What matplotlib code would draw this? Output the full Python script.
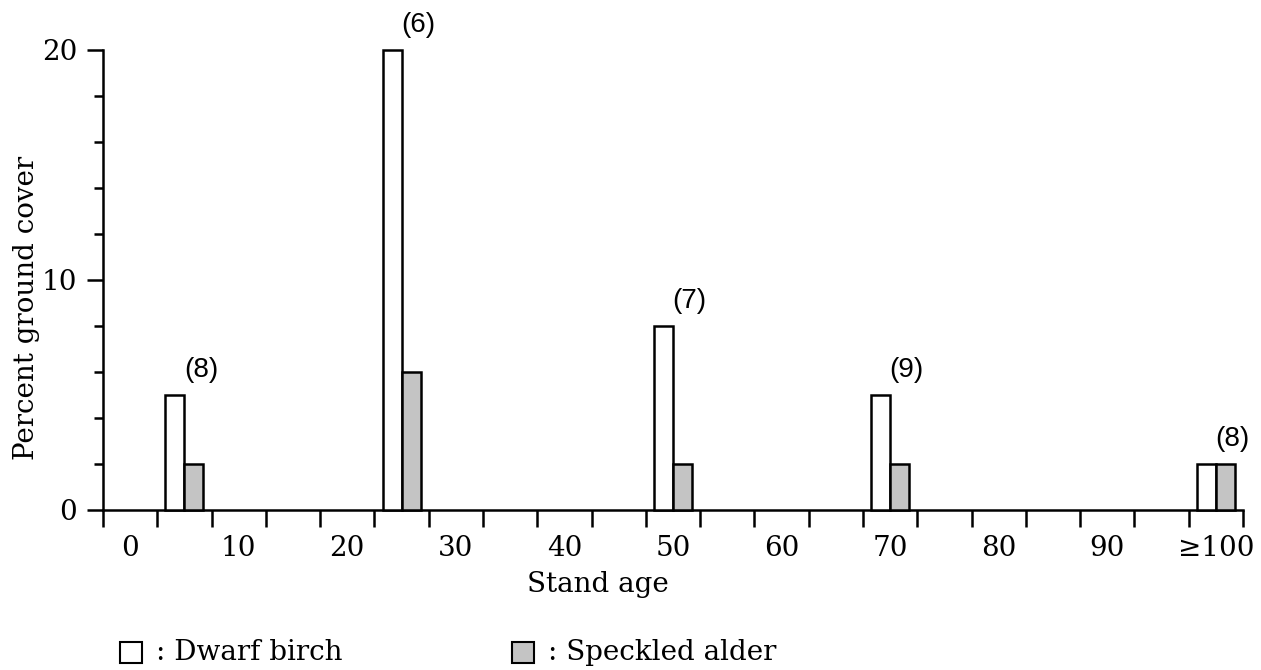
import numpy as np
import matplotlib
matplotlib.use('Agg')
import matplotlib.pyplot as plt
from matplotlib.patches import Rectangle

plt.rcParams['font.family'] = ['DejaVu Serif']

# data
ages = [5, 25, 50, 70, 100]
dwarf_birch = [5, 20, 8, 5, 2]
speckled_alder = [2, 6, 2, 2, 2]
n_stands = ['(8)', '(6)', '(7)', '(9)', '(8)']
age_ticks = [0, 10, 20, 30, 40, 50, 60, 70, 80, 90, 100]
age_labels = ['0', '10', '20', '30', '40', '50', '60', '70', '80', '90', '≥100']
class_edges = np.arange(-2.5, 103, 5)   # 5-year age classes

alder_color = '#c4c4c4'
lw = 1.8
bw = 1.75

fig = plt.figure(figsize=(12.61, 6.70), dpi=100)
ax = fig.add_axes([103/1261, 1-510/670, 1140/1261, 460/670])

x = np.array(ages)
ax.bar(x - bw/2, dwarf_birch, width=bw, facecolor='white', edgecolor='black',
       linewidth=lw, clip_on=False, zorder=3)
ax.bar(x + bw/2, speckled_alder, width=bw, facecolor=alder_color, edgecolor='black',
       linewidth=lw, clip_on=False, zorder=3)

# number of stands above each group
for xi, h, lab in zip(ages, dwarf_birch, n_stands):
    ax.annotate(lab, (xi, h), xytext=(12, 18), textcoords='offset points',
                ha='center', va='center', fontsize=20, family='Liberation Sans',
                annotation_clip=False)

ax.set_xlim(-2.5, 102.5)
ax.set_ylim(0, 20)
for s in ['top', 'right']:
    ax.spines[s].set_visible(False)
for s in ['left', 'bottom']:
    ax.spines[s].set_linewidth(lw)

# x: labels centred on classes, ticks at class edges
ax.set_xticks(age_ticks)
ax.set_xticklabels(age_labels, fontsize=20)
ax.set_xticks(class_edges, minor=True)
ax.tick_params(axis='x', which='major', length=0, pad=18)
ax.tick_params(axis='x', which='minor', length=12, width=lw, direction='out')

# y
ax.set_yticks([0, 10, 20])
ax.set_yticklabels(['0', '10', '20'], fontsize=20)
ax.set_yticks(np.arange(0, 21, 2), minor=True)
ax.tick_params(axis='y', which='major', length=11.5, width=lw, pad=7)
ax.tick_params(axis='y', which='minor', length=6.5, width=lw)

ax.set_xlabel('Stand age', fontsize=20, va='center')
ax.xaxis.set_label_coords((598-103)/1140, -(585-510)/460)
ax.set_ylabel('Percent ground cover', fontsize=20, va='center')
ax.yaxis.set_label_coords((27-103)/1140, 0.44)

# legend drawn below the axes
W, H = 1261, 670
for px, fc, txt in [(120, 'white', ': Dwarf birch'), (512, alder_color, ': Speckled alder')]:
    fig.add_artist(Rectangle((px/W, 1-663/H), 22/W, 21/H, transform=fig.transFigure,
                             facecolor=fc, edgecolor='black', linewidth=1.5))
    fig.text((px+36)/W, 1-653/H, txt, fontsize=20, va='center', ha='left')

fig.savefig('out.png', dpi=100)
